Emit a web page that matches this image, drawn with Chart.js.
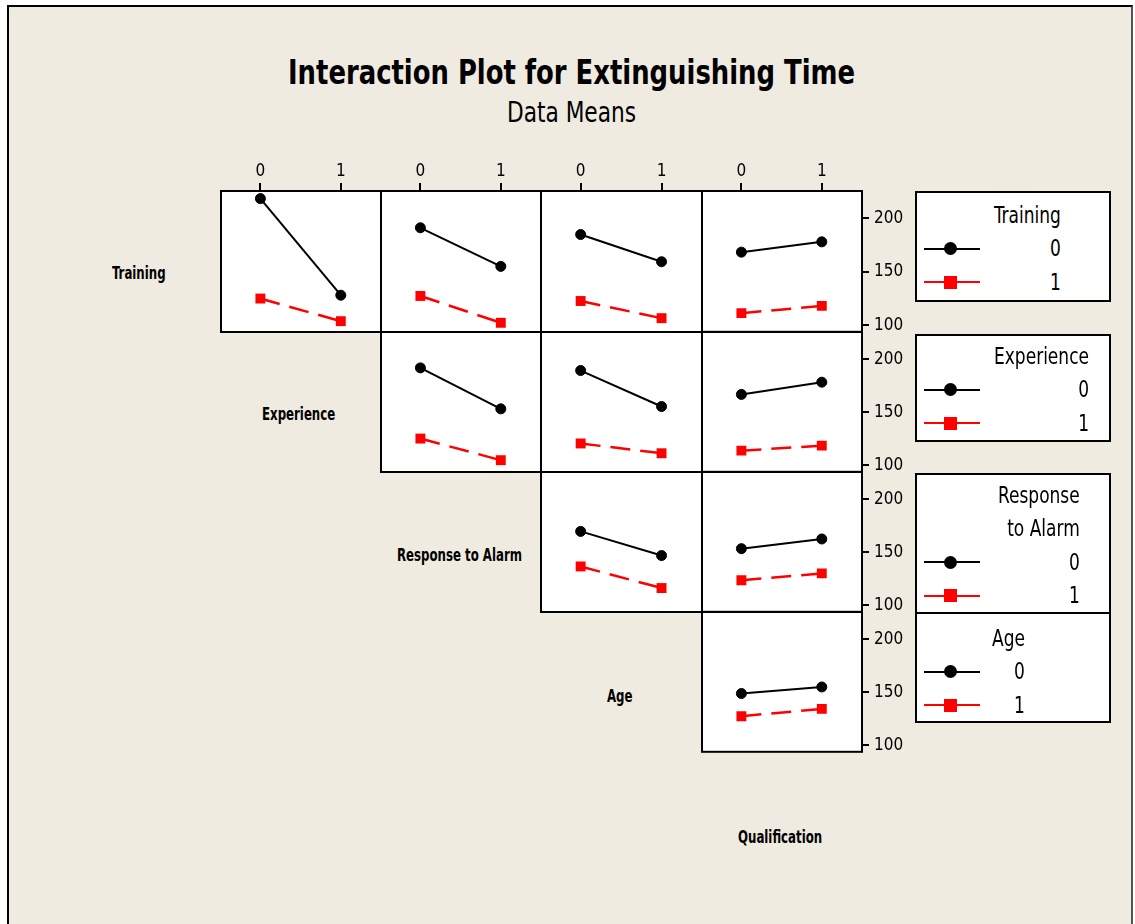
<!DOCTYPE html>
<html>
<head>
<meta charset="utf-8">
<title>Interaction Plot for Extinguishing Time</title>
<script src="https://cdn.jsdelivr.net/npm/chart.js@4.4.1/dist/chart.umd.min.js"></script>
<style>
  html, body { margin: 0; padding: 0; background: #ffffff; }
  body { width: 1135px; height: 924px; position: relative; overflow: hidden;
         font-family: 'DejaVu Sans Condensed', 'DejaVu Sans', sans-serif; }
  #frame { position: absolute; left: 7px; top: 5px; width: 1126px; height: 960px;
           background: #EFEBE0; border: 2px solid #000; border-right-color: #555;
           box-sizing: border-box; }
  .txt { position: absolute; white-space: nowrap; line-height: 1; color: #000;
         transform-origin: 0 0; }
  .legend { position: absolute; background: #fff; border: 2px solid #000; box-sizing: border-box; }
  .legtext { position: absolute; white-space: nowrap; font-size: 23px; line-height: 33.5px;
             text-align: right; transform-origin: 0 0; color: #000; }
  .mk-line { position: absolute; height: 2px; }
  .mk-dot { position: absolute; width: 13px; height: 13px; }
  canvas { position: absolute; }
</style>
</head>
<body>
<div id="frame"></div>
<script>
// ---- data: means of extinguishing time by factor pair ----
const levels = [0, 1];
const yTickValues = [100, 150, 200];
const factors = ['Training', 'Experience', 'Response to Alarm', 'Age', 'Qualification'];

// each array: [trace level 0 means at x = 0, 1], [trace level 1 means at x = 0, 1]
const trainingByExperience      = [[218.4, 128.3], [125.2, 104.1]];
const trainingByResponse        = [[191.2, 155.2], [127.6, 102.6]];
const trainingByAge             = [[184.9, 159.5], [122.9, 106.9]];
const trainingByQualification   = [[168.4, 178.0], [111.4, 118.2]];
const experienceByResponse      = [[191.8, 153.3], [125.4, 105.1]];
const experienceByAge           = [[189.3, 155.5], [120.8, 111.6]];
const experienceByQualification = [[166.8, 178.3], [113.9, 118.6]];
const responseByAge             = [[169.7, 147.0], [136.8, 116.5]];
const responseByQualification   = [[153.4, 162.5], [123.7, 130.1]];
const ageByQualification        = [[148.8, 155.0], [127.5, 134.4]];

const legendTitles = [['Training'], ['Experience'], ['Response', 'to Alarm'], ['Age']];

// ---- layout of the matrix ----
const colEdges = [221, 381, 541, 702, 862];
const rowEdges = [191, 332, 472, 612, 752];
const P = 15, TOP = 40, RIGHT = 50;
const tickFont = "'Liberation Sans Narrow', 'DejaVu Sans Condensed', sans-serif";

const panels = [
  { row: 0, col: 0, means: trainingByExperience },
  { row: 0, col: 1, means: trainingByResponse },
  { row: 0, col: 2, means: trainingByAge },
  { row: 0, col: 3, means: trainingByQualification },
  { row: 1, col: 1, means: experienceByResponse },
  { row: 1, col: 2, means: experienceByAge },
  { row: 1, col: 3, means: experienceByQualification },
  { row: 2, col: 2, means: responseByAge },
  { row: 2, col: 3, means: responseByQualification },
  { row: 3, col: 3, means: ageByQualification }
];

// white plot area with a black frame
const panelFrame = {
  id: 'panelFrame',
  beforeDraw(chart) {
    const { ctx, chartArea: a } = chart;
    ctx.save();
    ctx.fillStyle = '#ffffff';
    ctx.fillRect(a.left, a.top, a.width, a.height);
    ctx.restore();
  },
  afterDraw(chart) {
    const { ctx, chartArea: a } = chart;
    ctx.save();
    ctx.strokeStyle = '#000';
    ctx.lineWidth = 2;
    ctx.strokeRect(a.left, a.top, a.width, a.height);
    ctx.restore();
  }
};

function makePanel(p) {
  const left = colEdges[p.col], right = colEdges[p.col + 1];
  const top = rowEdges[p.row], bottom = rowEdges[p.row + 1];
  const w = right - left, h = bottom - top;
  const cv = document.createElement('canvas');
  cv.width = w + 2 * P + RIGHT;
  cv.height = h + 2 * P + TOP;
  cv.style.left = (left - P) + 'px';
  cv.style.top = (top - TOP - P) + 'px';
  cv.style.width = cv.width + 'px';
  cv.style.height = cv.height + 'px';
  document.body.appendChild(cv);
  const showX = p.row === 0;
  const showY = p.col === 3;
  new Chart(cv, {
    type: 'scatter',
    data: {
      datasets: [
        {
          data: levels.map((x, i) => ({ x, y: p.means[0][i] })),
          showLine: true, borderColor: '#000', borderWidth: 2,
          pointStyle: 'circle', pointRadius: 5,
          pointBackgroundColor: '#000', pointBorderColor: '#000', pointBorderWidth: 1
        },
        {
          data: levels.map((x, i) => ({ x, y: p.means[1][i] })),
          showLine: true, borderColor: '#ff0000', borderWidth: 2.5, borderDash: [20, 10],
          pointStyle: 'rect', pointRadius: 7,
          pointBackgroundColor: '#ff0000', pointBorderColor: '#ff0000', pointBorderWidth: 0
        }
      ]
    },
    options: {
      responsive: false, animation: false, devicePixelRatio: 1, events: [],
      layout: { padding: { left: P, bottom: P, top: showX ? P : P + TOP, right: showY ? P : P + RIGHT } },
      plugins: { legend: { display: false }, tooltip: { enabled: false } },
      scales: {
        x: {
          type: 'linear', position: 'top', min: -0.49, max: 1.5, display: showX,
          afterFit: s => { s.height = showX ? TOP : 0; },
          afterBuildTicks: s => { s.ticks = levels.map(v => ({ value: v })); },
          grid: { drawOnChartArea: false, drawTicks: true, tickLength: 8, color: '#000', lineWidth: 2 },
          border: { display: false },
          ticks: { color: '#000', font: { family: tickFont, size: 17 }, padding: 1,
                   maxRotation: 0, autoSkip: false }
        },
        y: {
          type: 'linear', position: 'right', min: 94, max: 225.5, display: showY,
          afterFit: s => { s.width = showY ? RIGHT : 0; },
          afterBuildTicks: s => { s.ticks = yTickValues.map(v => ({ value: v })); },
          grid: { drawOnChartArea: false, drawTicks: true, tickLength: 7, color: '#000', lineWidth: 2 },
          border: { display: false },
          ticks: { color: '#000', font: { family: tickFont, size: 17 }, padding: 5, autoSkip: false }
        }
      }
    },
    plugins: [panelFrame]
  });
}
panels.forEach(makePanel);

// ---- text helpers ----
function addText(text, cx, cy, size, weight, k) {
  const el = document.createElement('div');
  el.className = 'txt';
  el.textContent = text;
  el.style.fontSize = size + 'px';
  el.style.fontWeight = weight;
  document.body.appendChild(el);
  const w = el.getBoundingClientRect().width;
  el.style.left = (cx - w * k / 2) + 'px';
  el.style.top = (cy - 0.48 * size) + 'px';
  el.style.transform = 'scaleX(' + k + ')';
  return el;
}
function measure(text, size, weight) {
  const el = document.createElement('span');
  el.className = 'txt';
  el.style.fontSize = size + 'px';
  el.style.fontWeight = weight;
  el.textContent = text;
  document.body.appendChild(el);
  const w = el.getBoundingClientRect().width;
  el.remove();
  return w;
}

// titles
const titleText = 'Interaction Plot for Extinguishing Time';
addText(titleText, 571.5, 71, 34, 'bold', 567 / measure(titleText, 34, 'bold'));
addText('Data Means', 571, 111.5, 29, 'normal', 129 / measure('Data Means', 29, 'normal'));

// factor names along the diagonal
const kLabel = 125 / measure('Response to Alarm', 17, 'bold');
factors.forEach((name, i) => {
  const colL = i === 0 ? colEdges[0] - 160 : colEdges[i - 1];
  const colR = i === 0 ? colEdges[0] : colEdges[i];
  const rowT = rowEdges[0] + (rowEdges[1] - rowEdges[0]) * i;
  const cx = (colL + colR) / 2 - 2;
  const cy = rowT + 70 + 12.5;
  addText(name, cx, cy, 17, 'bold', kLabel);
});

// ---- legends ----
const legendBoxes = [
  { top: 191, bottom: 302, titleY: 215, textLeft: 994 },
  { top: 334, bottom: 442, titleY: 356, textLeft: 994 },
  { top: 473, bottom: 614, titleY: 495, textLeft: 998 },
  { top: 612, bottom: 723, titleY: 638, textLeft: 992 }
];
const kLegend = 95 / measure('Experience', 23, 'normal');
legendBoxes.forEach((b, i) => {
  const box = document.createElement('div');
  box.className = 'legend';
  box.style.left = '915px';
  box.style.width = '196px';
  box.style.top = b.top + 'px';
  box.style.height = (b.bottom - b.top) + 'px';
  document.body.appendChild(box);

  const t = document.createElement('div');
  t.className = 'legtext';
  t.innerHTML = legendTitles[i].concat(levels.map(String)).join('<br>');
  t.style.left = b.textLeft + 'px';
  t.style.top = (b.titleY - 16.3) + 'px';
  t.style.transform = 'scaleX(' + kLegend + ')';
  document.body.appendChild(t);

  levels.forEach((lv, j) => {
    const y = b.titleY + 33.5 * (legendTitles[i].length + j);
    const color = j === 0 ? '#000' : '#ff0000';
    const line = document.createElement('div');
    line.className = 'mk-line';
    line.style.left = '924px';
    line.style.width = '56px';
    line.style.top = (y - 1) + 'px';
    line.style.background = color;
    document.body.appendChild(line);
    const dot = document.createElement('div');
    dot.className = 'mk-dot';
    dot.style.left = (950 - 6.5) + 'px';
    dot.style.top = (y - 6.5) + 'px';
    dot.style.background = color;
    if (j === 0) dot.style.borderRadius = '50%';
    document.body.appendChild(dot);
  });
});
</script>
</body>
</html>
